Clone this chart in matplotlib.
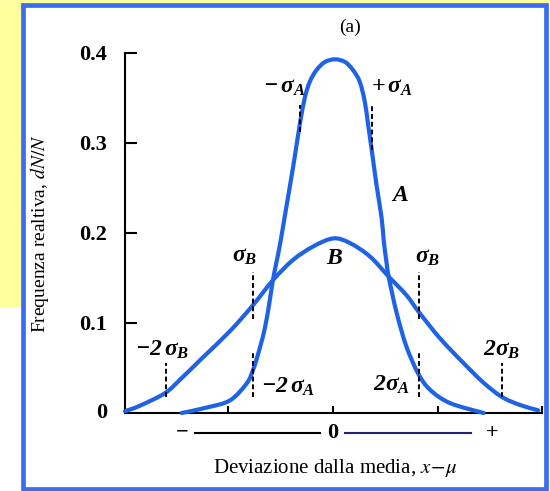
import numpy as np
import matplotlib.pyplot as plt
from matplotlib.patches import Rectangle, PathPatch
from matplotlib.path import Path

plt.rcParams['font.family'] = ['Liberation Serif', 'DejaVu Serif']
plt.rcParams['mathtext.fontset'] = 'custom'
plt.rcParams['mathtext.rm'] = 'Liberation Serif:bold:italic'
plt.rcParams['mathtext.it'] = 'Liberation Serif:bold:italic'
plt.rcParams['mathtext.bf'] = 'Liberation Serif:bold:italic'

# curve A (narrow); x in units of sigma_A
a_x = [-3.60, -3.01, -2.45, -2.05, -1.90, -1.79, -1.63, -1.51, -1.43, -1.35, -1.26, -1.14,
       -1.02, -0.90, -0.79, -0.67, -0.55, -0.39, -0.19, 0.05, 0.29, 0.48, 0.64, 0.76,
       0.84, 0.92, 1.04, 1.16, 1.21, 1.27, 1.33, 1.52, 1.75, 2.03, 2.31, 2.79, 3.59]
a_y = [0.000, 0.006, 0.014, 0.033, 0.048, 0.064, 0.092, 0.123, 0.147, 0.166, 0.187, 0.220,
       0.253, 0.287, 0.320, 0.350, 0.368, 0.381, 0.390, 0.393, 0.390, 0.381, 0.368, 0.346,
       0.320, 0.294, 0.253, 0.217, 0.192, 0.170, 0.151, 0.111, 0.074, 0.044, 0.026, 0.011, 0.000]

# curve B (wide)
b_x = [-4.95, -4.60, -4.00, -3.64, -3.09, -2.45, -1.90, -1.42, -0.95, -0.47, 0.01, 0.40,
       0.88, 1.32, 1.75, 2.05, 2.55, 3.10, 3.58, 4.02, 4.45, 4.89]
b_y = [0.002, 0.008, 0.022, 0.037, 0.062, 0.091, 0.120, 0.148, 0.170, 0.185, 0.194, 0.189,
       0.174, 0.152, 0.131, 0.112, 0.083, 0.056, 0.034, 0.018, 0.009, 0.003]

# dashed sigma markers: x, y bottom, y top
mark_x = [-0.79, 0.92, -1.91, -1.91, 2.05, 2.05, -3.98, 4.02]
mark_y0 = [0.312, 0.292, 0.105, 0.018, 0.105, 0.018, 0.018, 0.018]
mark_y1 = [0.342, 0.342, 0.157, 0.068, 0.157, 0.068, 0.056, 0.056]

yticks = [0.1, 0.2, 0.3, 0.4]
ytick_labels = ['0.1', '0.2', '0.3', '0.4']
xticks = [-2.5, 0, 2.5, 4.98]


def smooth_path(xs, ys):
    # cubic bezier through the read points (catmull-rom style handles)
    p = np.column_stack([xs, ys])
    ext = np.vstack([p[0], p, p[-1]])
    verts = [p[0]]
    codes = [Path.MOVETO]
    for i in range(1, len(ext) - 2):
        c1 = ext[i] + (ext[i + 1] - ext[i - 1]) / 6
        c2 = ext[i + 1] - (ext[i + 2] - ext[i]) / 6
        verts += [c1, c2, ext[i + 1]]
        codes += [Path.CURVE4] * 3
    return Path(verts, codes)


W, H = 550, 491
fig = plt.figure(figsize=(W / 100, H / 100), dpi=100)
fig.patch.set_facecolor('white')

# yellow strip and blue frame
fig.add_artist(Rectangle((0, 1 - 308 / H), 21 / W, 308 / H, transform=fig.transFigure,
                         facecolor='#fffe9e', edgecolor='none', zorder=0))
fig.add_artist(Rectangle((0, 1 - 3 / H), 1, 3 / H, transform=fig.transFigure,
                         facecolor='#fffe9e', edgecolor='none', zorder=0))
fig.add_artist(Rectangle((23 / W, 1 - 489 / H), (546 - 23) / W, (489 - 4.5) / H,
                         transform=fig.transFigure, facecolor='none',
                         edgecolor='#3c6cf2', linewidth=3.4, zorder=10))

# axes box in pixels: x 125..542, y 53..413
ax = fig.add_axes([125 / W, 1 - 413 / H, (542 - 125) / W, (413 - 53) / H])
ax.set_xlim(-4.95, 4.98)
ax.set_ylim(0, 0.4)
ax.patch.set_alpha(0)
for s in ['top', 'right']:
    ax.spines[s].set_visible(False)
for s in ['left', 'bottom']:
    ax.spines[s].set_linewidth(1.5)

ax.set_yticks(yticks)
ax.set_yticklabels(ytick_labels, fontweight='bold', fontsize=16)
ax.set_xticks(xticks)
ax.set_xticklabels([])
ax.tick_params(axis='y', direction='in', length=8.5, width=1.5, pad=13)
ax.tick_params(axis='x', direction='in', length=5, width=1.5)
ax.text(-4.95 - 18 / 42, 0, '0', ha='right', va='center',
        fontweight='bold', fontsize=16, clip_on=False)

blue = '#1f62e6'
for xs, ys in [(a_x, a_y), (b_x, b_y)]:
    ax.add_patch(PathPatch(smooth_path(xs, ys), facecolor='none', edgecolor=blue,
                           lw=3, capstyle='round', clip_on=False, zorder=3))
ax.vlines(mark_x, mark_y0, mark_y1, colors='black', linestyles=(0, (2.5, 1.5)),
          linewidth=1.4, zorder=4)

lab = dict(fontsize=17, ha='center', va='center', clip_on=False)
ax.text(0.40, 0.428, '(a)', fontsize=14, ha='center', va='center', clip_on=False)
ax.text(-1.17, 0.362, r'$-\,\sigma_A$', **lab)
ax.text(1.40, 0.362, r'$+\,\sigma_A$', **lab)
ax.text(1.60, 0.242, r'$A$', **lab)
ax.text(0.05, 0.172, r'$B$', **lab)
ax.text(-2.10, 0.174, r'$\sigma_B$', **lab)
ax.text(2.26, 0.173, r'$\sigma_B$', **lab)
ax.text(-4.07, 0.070, r'$-2\,\sigma_B$', **lab)
ax.text(-1.07, 0.029, r'$-2\,\sigma_A$', **lab)
ax.text(1.40, 0.031, r'$2\sigma_A$', **lab)
ax.text(4.02, 0.070, r'$2\sigma_B$', **lab)

# "-  ---- 0 ----  +" below the axis
yb = -0.022
ax.text(-3.6, yb, '\u2212', fontsize=16, fontweight='bold', ha='center', va='center', clip_on=False)
ax.plot([-3.29, -0.31], [yb, yb], color='black', lw=1.5, clip_on=False)
ax.text(0, yb, '0', fontsize=16, fontweight='bold', ha='center', va='center', clip_on=False)
ax.plot([0.29, 3.29], [yb, yb], color='#22227a', lw=1.5, clip_on=False)
ax.text(3.79, yb, '+', fontsize=16, fontweight='bold', ha='center', va='center', clip_on=False)

fig.text(40 / W, 1 - 234 / H, r'Frequenza realtiva, $dN/N$', rotation=90, fontsize=14,
         ha='center', va='center', math_fontfamily='stix')
fig.text(335 / W, 1 - 468 / H, r'Deviazione dalla media, $x\!-\!\mu$', fontsize=15,
         ha='center', va='center', math_fontfamily='stix')

fig.savefig('out.png', dpi=100)
